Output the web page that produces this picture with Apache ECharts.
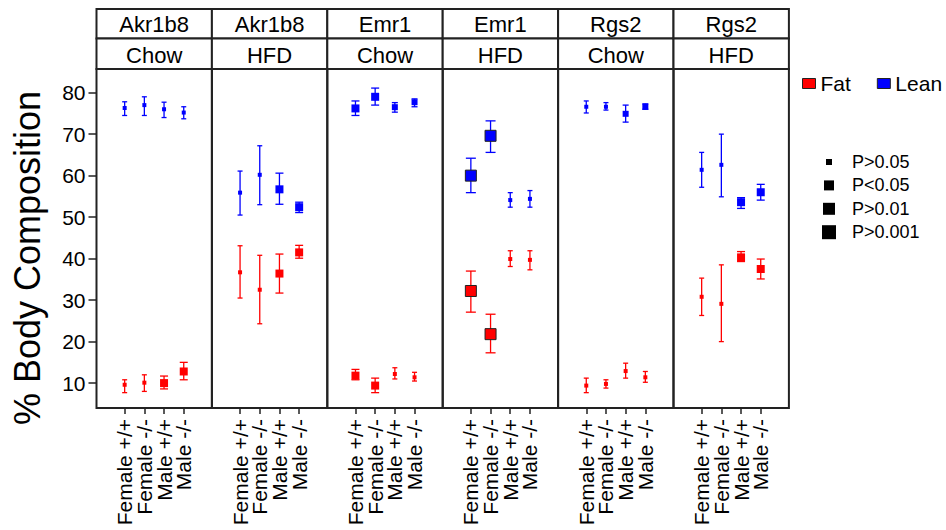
<!DOCTYPE html>
<html>
<head>
<meta charset="utf-8">
<script src="https://cdn.jsdelivr.net/npm/echarts@6/dist/echarts.min.js"></script>
<style>
html, body { margin: 0; padding: 0; background: #fff; }
#main { width: 946px; height: 530px; }
</style>
</head>
<body>
<div id="main"></div>
<script>
// data
var categories = ['Female +/+', 'Female -/-', 'Male +/+', 'Male -/-'];
var genes = ['Akr1b8', 'Akr1b8', 'Emr1', 'Emr1', 'Rgs2', 'Rgs2'];
var diets = ['Chow', 'HFD', 'Chow', 'HFD', 'Chow', 'HFD'];
var yTicks = [10, 20, 30, 40, 50, 60, 70, 80];
var sigLabels = ['P>0.05', 'P<0.05', 'P>0.01', 'P>0.001'];

var fatMean = [
	[9.6, 10.1, 10.0, 12.8],
	[36.7, 32.5, 36.4, 41.5],
	[11.8, 9.4, 12.2, 11.4],
	[32.2, 21.8, 39.9, 39.7],
	[9.4, 9.8, 12.9, 11.4],
	[30.8, 29.1, 40.3, 37.5]
];
var fatLow = [
	[7.7, 8.0, 8.6, 10.8],
	[30.5, 24.3, 31.7, 40.1],
	[10.8, 7.7, 11.0, 10.5],
	[27.1, 17.3, 38.1, 37.3],
	[7.7, 8.8, 11.2, 10.2],
	[26.3, 20.0, 39.3, 35.1]
];
var fatHigh = [
	[10.8, 12.0, 11.7, 15.0],
	[43.1, 40.8, 41.1, 43.2],
	[13.3, 11.2, 13.7, 12.6],
	[37.0, 26.6, 41.9, 41.9],
	[11.2, 10.8, 14.8, 12.8],
	[35.3, 38.5, 41.7, 39.9]
];
var fatLevel = [
	[0, 0, 2, 2],
	[0, 0, 2, 2],
	[2, 2, 0, 0],
	[3, 3, 0, 0],
	[0, 0, 0, 0],
	[0, 0, 2, 2]
];

var leanMean = [
	[76.3, 77.0, 76.0, 75.2],
	[55.9, 60.2, 56.7, 52.4],
	[76.2, 79.0, 76.5, 77.7],
	[60.0, 69.6, 54.1, 54.4],
	[76.6, 76.6, 74.9, 76.6],
	[61.4, 62.6, 53.6, 56.0]
];
var leanLow = [
	[74.5, 74.5, 74.0, 73.7],
	[50.5, 53.0, 53.1, 51.1],
	[74.5, 77.0, 75.3, 76.6],
	[55.9, 65.6, 52.4, 52.4],
	[75.1, 75.8, 72.9, 76.0],
	[57.2, 54.9, 52.1, 54.1]
];
var leanHigh = [
	[77.8, 79.0, 77.7, 76.6],
	[61.1, 67.2, 60.6, 53.6],
	[78.0, 81.1, 77.6, 78.5],
	[64.2, 73.2, 55.9, 56.4],
	[78.0, 77.6, 77.0, 77.3],
	[65.6, 70.0, 54.7, 57.9]
];
var leanLevel = [
	[0, 0, 0, 0],
	[0, 0, 2, 2],
	[2, 2, 1, 1],
	[3, 3, 0, 0],
	[0, 0, 1, 1],
	[0, 0, 2, 2]
];

// layout
var FONT = 'Liberation Sans, Arial, sans-serif';
var LINE = '#222';
var gridLeft = 96.5, gridW = 115.4, gridTop = 69, gridH = 339;
var symSize = [4, 6, 8, 11];
var capHalf = [2.5, 3, 4, 5];
var keySize = [6, 10, 12, 14];
var xPos = categories.map(function (c, i) { return i; });
// blank end labels so min/max label hiding never touches the real ones
var xLabelPos = [-1].concat(xPos, [categories.length]);

var grids = [], xAxes = [], yAxes = [], series = [], graphics = [];

function errorSeries(name, color, p, low, high, level) {
	return {
		type: 'custom',
		name: name,
		xAxisIndex: p,
		yAxisIndex: p,
		silent: true,
		z: 2,
		encode: { x: 0, y: [1, 2] },
		data: categories.map(function (c, k) {
			return [k, low[p][k], high[p][k], level[p][k]];
		}),
		renderItem: function (params, api) {
			var lo = api.coord([api.value(0), api.value(1)]);
			var hi = api.coord([api.value(0), api.value(2)]);
			var w = capHalf[api.value(3)];
			var st = { stroke: color, lineWidth: 1.3 };
			return {
				type: 'group',
				children: [
					{ type: 'line', shape: { x1: lo[0], y1: lo[1], x2: hi[0], y2: hi[1] }, style: st },
					{ type: 'line', shape: { x1: lo[0] - w, y1: lo[1], x2: lo[0] + w, y2: lo[1] }, style: st },
					{ type: 'line', shape: { x1: hi[0] - w, y1: hi[1], x2: hi[0] + w, y2: hi[1] }, style: st }
				]
			};
		}
	};
}

function pointSeries(name, color, p, mean, level) {
	return {
		type: 'scatter',
		name: name,
		xAxisIndex: p,
		yAxisIndex: p,
		symbol: 'rect',
		z: 3,
		itemStyle: { color: color, opacity: 1 },
		data: categories.map(function (c, k) {
			var lv = level[p][k];
			return {
				value: [k, mean[p][k]],
				symbolSize: symSize[lv],
				itemStyle: lv == 3 ? { borderColor: '#222', borderWidth: 1 } : { borderWidth: 0 }
			};
		})
	};
}

for (var p = 0; p < genes.length; p++) {
	var left = gridLeft + p * gridW;
	grids.push({
		left: left, top: gridTop, width: gridW, height: gridH,
		show: true, borderColor: LINE, borderWidth: 2, backgroundColor: 'transparent'
	});
	xAxes.push({
		type: 'value', gridIndex: p, min: -1.43, max: 4.43,
		axisLine: { show: false, onZero: false }, splitLine: { show: false },
		axisTick: { show: true, customValues: xPos, length: 6, lineStyle: { color: LINE, width: 1.5 } },
		axisLabel: {
			customValues: xLabelPos, rotate: 90, margin: 11,
			showMinLabel: false, showMaxLabel: false, hideOverlap: false,
			fontSize: 21, fontFamily: FONT, color: '#000',
			formatter: function (v) { return categories[v] || ''; }
		}
	});
	yAxes.push({
		type: 'value', gridIndex: p, min: 4, max: 85.7,
		axisLine: { show: false, onZero: false }, splitLine: { show: false },
		axisTick: { show: p == 0, customValues: yTicks, length: 8, lineStyle: { color: LINE, width: 1.5 } },
		axisLabel: { show: p == 0, customValues: yTicks, margin: 11, fontSize: 21, fontFamily: FONT, color: '#000' }
	});
	series.push(errorSeries('Fat', '#ff0000', p, fatLow, fatHigh, fatLevel));
	series.push(errorSeries('Lean', '#0000ff', p, leanLow, leanHigh, leanLevel));
	series.push(pointSeries('Fat', '#ff0000', p, fatMean, fatLevel));
	series.push(pointSeries('Lean', '#0000ff', p, leanMean, leanLevel));

	// strip headers
	graphics.push({ type: 'rect', shape: { x: left, y: 9, width: gridW, height: 29.5 },
		style: { fill: '#fff', stroke: LINE, lineWidth: 2 } });
	graphics.push({ type: 'rect', shape: { x: left, y: 38.5, width: gridW, height: 30.5 },
		style: { fill: '#fff', stroke: LINE, lineWidth: 2 } });
	graphics.push({ type: 'text', z: 10, style: { text: genes[p], x: left + gridW / 2, y: 24.5,
		align: 'center', verticalAlign: 'middle', fontSize: 22, fontFamily: FONT, fill: '#000' } });
	graphics.push({ type: 'text', z: 10, style: { text: diets[p], x: left + gridW / 2, y: 55,
		align: 'center', verticalAlign: 'middle', fontSize: 22, fontFamily: FONT, fill: '#000' } });
}

// y axis title
graphics.push({ type: 'text', x: 27, y: 258, rotation: Math.PI / 2,
	style: { text: '% Body Composition', align: 'center', verticalAlign: 'middle',
		fontSize: 36, fontFamily: FONT, fill: '#000' } });

// significance key
for (var s = 0; s < sigLabels.length; s++) {
	var cy = 162 + s * 23.4;
	var sz = keySize[s];
	graphics.push({ type: 'rect', shape: { x: 829 - sz / 2, y: cy - sz / 2, width: sz, height: sz },
		style: { fill: '#000' } });
	graphics.push({ type: 'text', style: { text: sigLabels[s], x: 852, y: cy,
		align: 'left', verticalAlign: 'middle', fontSize: 18, fontFamily: FONT, fill: '#000' } });
}

var myChart = echarts.init(document.getElementById('main'), null, { renderer: 'svg' });
var option = {
	animation: false,
	backgroundColor: '#fff',
	legend: {
		data: [
			{ name: 'Fat', itemStyle: { color: '#ff0000', borderColor: '#222', borderWidth: 1 } },
			{ name: 'Lean', itemStyle: { color: '#0000ff', borderColor: '#222', borderWidth: 1 } }
		],
		icon: 'rect', itemWidth: 13, itemHeight: 10, itemGap: 26, padding: 0,
		left: 802, top: 73, width: 150, selectedMode: false,
		textStyle: { fontSize: 21, fontFamily: FONT, color: '#000' }
	},
	grid: grids,
	xAxis: xAxes,
	yAxis: yAxes,
	series: series,
	graphic: graphics
};
myChart.setOption(option);
</script>
</body>
</html>
